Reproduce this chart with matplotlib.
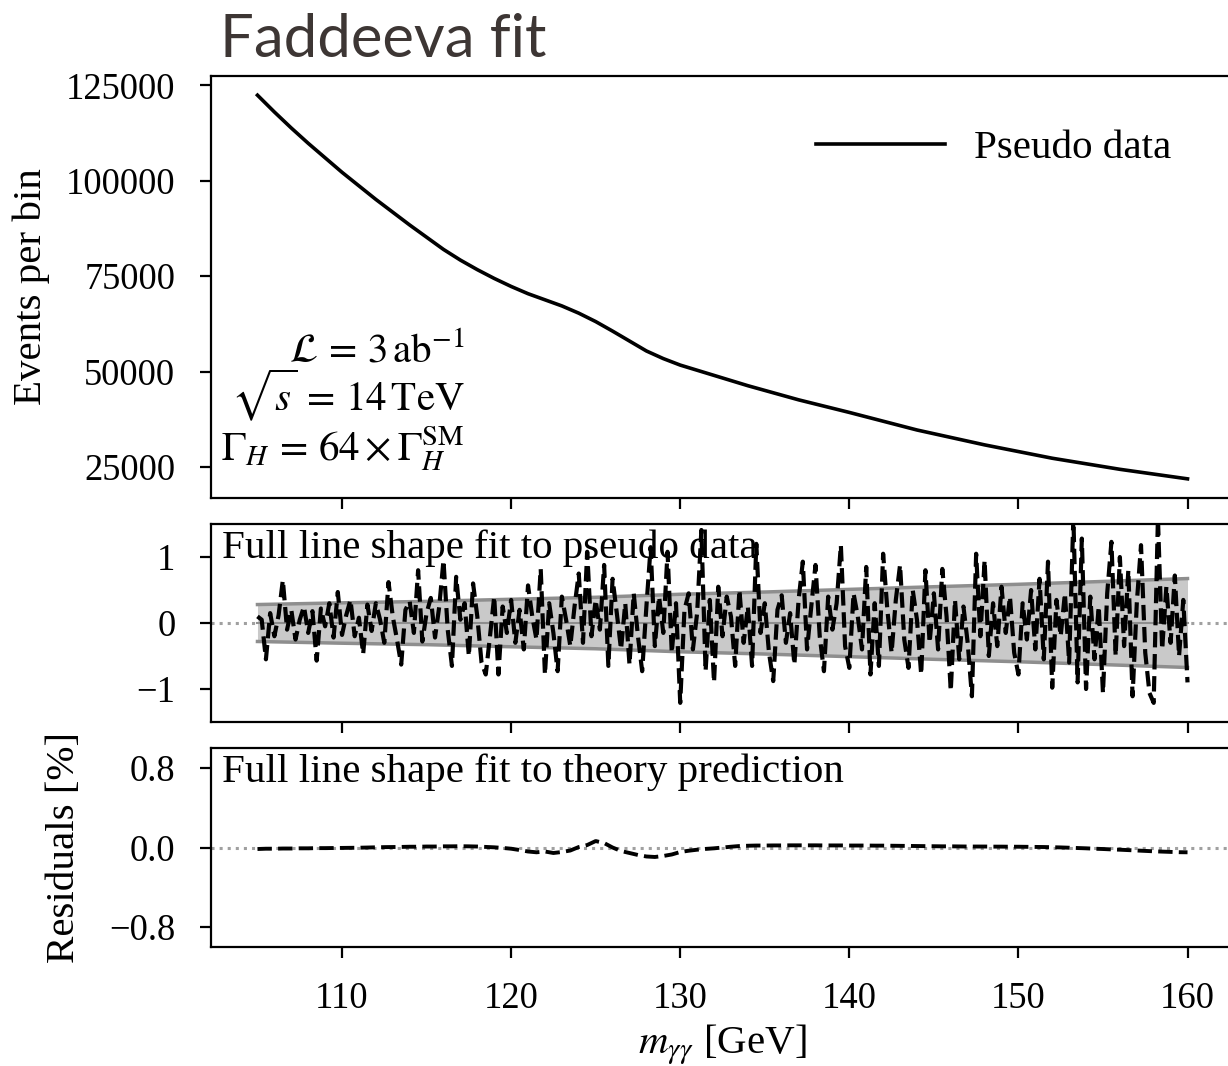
import numpy as np
import matplotlib
matplotlib.use("Agg")
import matplotlib.pyplot as plt

plt.rcParams['font.family'] = ['Liberation Serif', 'DejaVu Serif']
plt.rcParams['mathtext.fontset'] = 'stix'
plt.rcParams['axes.unicode_minus'] = True

# ---------------- data ----------------
# top panel: pseudo data (events per bin)
mass_top = [105, 106, 107, 108, 110, 112, 114, 116, 117, 118, 119, 120, 121, 122,
            123, 124, 125, 126, 127, 128, 129, 130, 132, 134, 137, 140, 144, 148,
            152, 156, 160]
events = [122400, 118000, 113800, 109800, 102200, 95100, 88400, 82000, 79200, 76700,
          74400, 72300, 70400, 68800, 67200, 65300, 63100, 60600, 58000, 55400,
          53400, 51700, 49000, 46300, 42600, 39300, 34700, 30800, 27300, 24400,
          21900]

# middle panel: uncertainty band (half width, %) and residuals (%)
mass_band = [105, 110, 115, 120, 125, 130, 135, 140, 145, 150, 155, 160]
band_half = [0.28, 0.306, 0.328, 0.36, 0.39, 0.436, 0.47, 0.51, 0.55, 0.587, 0.63, 0.674]

mass_mid = np.linspace(105, 160, 221)
resid_data = [
    0.10, 0.05, -0.55, 0.15, -0.20, 0.12, 0.65, -0.10, 0.20, -0.25,
    0.05, 0.25, -0.15, 0.18, -0.57, 0.22, -0.05, 0.30, -0.22, 0.47,
    -0.18, 0.12, 0.35, -0.20, 0.08, -0.47, 0.28, -0.12, 0.30, 0.05,
    -0.30, 0.62, 0.10, -0.25, -0.63, 0.20, 0.33, -0.15, 0.80, -0.28,
    0.15, 0.38, -0.22, 0.25, 0.95, -0.10, -0.65, 0.70, 0.05, 0.30,
    -0.50, 0.60, 0.10, -0.60, -0.78, -0.20, 0.40, -0.78, 0.25, -0.15,
    0.35, -0.30, 0.20, -0.40, 0.57, 0.10, -0.25, 0.82, -0.78, 0.30,
    -0.15, -0.73, 0.40, 0.05, -0.35, 0.25, 0.75, -0.30, 1.08, -0.20,
    0.35, -0.10, 0.88, -0.65, 0.67, 0.15, -0.40, 0.30, -0.63, 0.45,
    -0.20, -0.73, 0.25, 1.15, -0.35, 0.40, -0.15, 1.08, -0.45, 0.30,
    -1.21, 0.20, 0.45, -0.40, 0.15, 1.41, -0.73, 0.35, -0.90, 0.55,
    -0.20, 0.40, 0.10, -0.65, 0.50, -0.30, 0.25, -0.65, 1.20, -0.15,
    0.30, -0.45, -0.88, 0.20, 0.42, -0.30, 0.15, -0.63, 0.35, 0.93,
    -0.40, 0.25, 0.88, -0.20, -0.73, 0.40, -0.10, 0.30, 1.18, -0.35,
    -0.68, 0.45, 0.10, -0.40, 0.85, -0.78, 0.30, -0.65, 1.05, 0.20,
    -0.45, 0.35, 0.88, -0.25, -0.68, 0.50, 0.05, -0.78, 0.80, -0.30,
    0.45, -0.40, 0.82, 0.10, -1.03, 0.35, -0.55, 0.25, -0.30, -1.11,
    1.05, -0.20, 0.95, -0.50, 0.30, -0.35, 0.55, -0.15, 0.40, -0.45,
    -0.78, 0.30, -0.25, 0.50, -0.40, 0.67, -0.55, 0.93, -0.98, 0.35,
    -0.20, 0.45, -0.60, 1.60, -0.90, 1.28, -1.00, 0.40, -0.55, 0.25,
    -1.06, 0.45, 1.23, -0.50, 1.00, -0.35, 0.80, -1.11, 0.30, 1.18,
    -0.45, -1.06, -1.21, 1.60, -0.40, 0.55, -0.30, 0.72, -0.50, 0.35,
    -0.90,
]

# bottom panel: residuals of fit to theory prediction (%)
mass_bot = np.linspace(105, 160, 111)
resid_theory = [
    -0.015, -0.012, -0.012, -0.010, -0.010, -0.008, -0.008, -0.006, -0.006, -0.005,
    -0.004, -0.003, -0.002, 0.000, 0.002, 0.004, 0.005, 0.006, 0.008, 0.008,
    0.010, 0.010, 0.012, 0.012, 0.013, 0.012, 0.010, 0.006, 0.002, -0.004,
    -0.012, -0.025, -0.040, -0.048, -0.040, -0.055, -0.045, -0.030, 0.005, 0.025,
    0.065, 0.045, 0.000, -0.035, -0.055, -0.075, -0.090, -0.095, -0.085, -0.070,
    -0.045, -0.032, -0.022, -0.014, -0.008, 0.000, 0.008, 0.015, 0.018, 0.020,
    0.020, 0.021, 0.021, 0.022, 0.022, 0.022, 0.022, 0.021, 0.021, 0.021,
    0.020, 0.020, 0.020, 0.019, 0.019, 0.018, 0.017, 0.016, 0.015, 0.014,
    0.013, 0.012, 0.012, 0.011, 0.010, 0.010, 0.010, 0.009, 0.009, 0.008,
    0.008, 0.007, 0.006, 0.005, 0.003, 0.001, -0.002, -0.005, -0.008, -0.012,
    -0.015, -0.019, -0.022, -0.026, -0.030, -0.034, -0.038, -0.041, -0.044, -0.047,
    -0.048,
]

top_yticks = [25000, 50000, 75000, 100000, 125000]
mid_yticks = [-1, 0, 1]
bot_yticks = [-0.8, 0.0, 0.8]
xticks = [110, 120, 130, 140, 150, 160]

# ---------------- figure ----------------
TICK_FS = 26.3
TEXT_FS = 29.5

fig = plt.figure(figsize=(12.28, 10.66), dpi=100)
left, width = 0.1718, 0.8331
ax1 = fig.add_axes([left, 0.5328, width, 0.3959])
ax2 = fig.add_axes([left, 0.3227, width, 0.1857], sharex=ax1)
ax3 = fig.add_axes([left, 0.1116, width, 0.1867], sharex=ax1)

for ax in (ax1, ax2, ax3):
    for sp in ax.spines.values():
        sp.set_linewidth(1.6)
    ax.tick_params(axis='both', direction='out', length=7.6, width=1.6,
                   labelsize=TICK_FS)
    ax.tick_params(axis='y', pad=18)
    ax.tick_params(axis='x', pad=17)

# top panel
ax1.plot(mass_top, events, color='black', lw=2.6, label='Pseudo data')
ax1.set_yticks(top_yticks)
ax1.set_yticklabels([str(t) for t in top_yticks])
ax1.set_ylabel('Events per bin', fontsize=TEXT_FS)
ax1.yaxis.set_label_coords(-0.157, 0.5)
ax1.tick_params(axis='x', labelbottom=False)
ax1.legend(loc='center left', bbox_to_anchor=(0.5554, 0.829), frameon=False,
           fontsize=TEXT_FS, handlelength=3.15, handletextpad=0.7)
ax1.text(0.248, 0.324, r'$\mathcal{L}\,=\,3\,\mathrm{ab}^{-1}$', transform=ax1.transAxes,
         ha='right', va='baseline', fontsize=TEXT_FS)
ax1.text(0.248, 0.207, r'$\sqrt{s}\,=\,14\,\mathrm{TeV}$', transform=ax1.transAxes,
         ha='right', va='baseline', fontsize=TEXT_FS)
ax1.text(0.248, 0.090, r'$\Gamma_H\,=\,64 \times \Gamma_H^{\mathrm{SM}}$', transform=ax1.transAxes,
         ha='right', va='baseline', fontsize=TEXT_FS)

# middle panel
band_lo = [-b for b in band_half]
ax2.axhline(0, color='#a0a0a0', ls=':', lw=2.2, zorder=0)
ax2.fill_between(mass_band, band_lo, band_half, color='#c9c9c9', lw=0, zorder=1)
ax2.plot(mass_band, band_half, color='#8e8e8e', lw=2.5, zorder=1.5)
ax2.plot(mass_band, band_lo, color='#8e8e8e', lw=2.5, zorder=1.5)
ax2.plot([mass_band[0], mass_band[-1]], [0, 0], color='#8e8e8e', lw=1.5, zorder=1.6)
ax2.plot(mass_mid, resid_data, color='black', ls='--', lw=3.0, zorder=2)
ax2.set_ylim(-1.5, 1.5)
ax2.set_yticks(mid_yticks)
ax2.tick_params(axis='x', labelbottom=False)
ax2.text(0.011, 0.975, 'Full line shape fit to pseudo data', transform=ax2.transAxes,
         ha='left', va='top', fontsize=TEXT_FS, zorder=1.2)

# bottom panel
ax3.axhline(0, color='#a0a0a0', ls=':', lw=2.2, zorder=0)
ax3.plot(mass_bot, resid_theory, color='black', ls='--', lw=2.8, zorder=2)
ax3.set_ylim(-1, 1)
ax3.set_yticks(bot_yticks)
ax3.set_yticklabels(['0.8' if t > 0 else ('0.0' if t == 0 else '\u22120.8') for t in bot_yticks])
ax3.set_ylabel('Residuals [%]', fontsize=TEXT_FS)
ax3.yaxis.set_label_coords(-0.125, 0.5)
ax3.set_xticks(xticks)
ax3.set_xlabel(r'$m_{\gamma\gamma}$ [GeV]', fontsize=TEXT_FS)
ax3.xaxis.set_label_coords(0.5, -0.38)
ax3.text(0.011, 0.975, 'Full line shape fit to theory prediction', transform=ax3.transAxes,
         ha='left', va='top', fontsize=TEXT_FS, zorder=1.2)

# title
fig.text(220 / 1228, 1 - 57 / 1066, 'Faddeeva fit', family=['Lato', 'DejaVu Sans'],
         weight='normal', fontsize=43, color='#3d3634', ha='left', va='baseline')

fig.savefig('out.png', dpi=100)
